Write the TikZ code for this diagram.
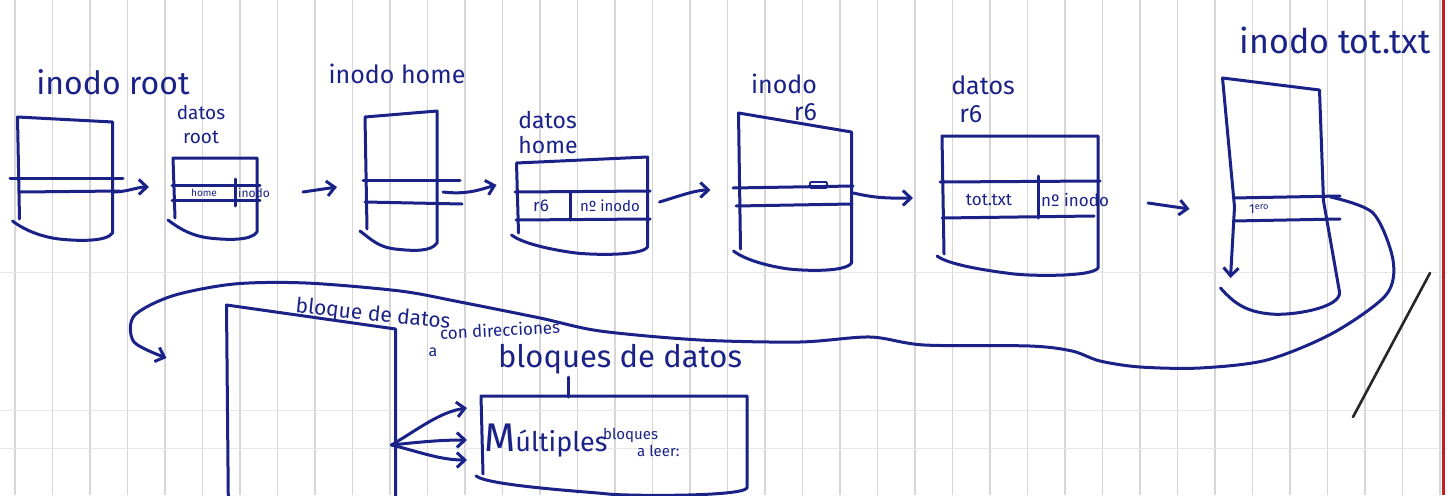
\documentclass[tikz,border=0pt]{standalone}
\usepackage{fontspec}
\setmainfont{Fira Sans}
\usetikzlibrary{arrows.meta,calc}
\definecolor{ink}{RGB}{26,34,135}
\definecolor{gridc}{RGB}{214,214,214}
\definecolor{marginred}{RGB}{196,30,36}
\newcommand\skbox[2]{%
  \draw[pen] ($(#1.south west)+(2,-14)$) -- (#1.north west) -- ($(#1.north east)+(0,#2)$) -- (#1.south east)
    .. controls ($(#1.south east)+(-6,9)$) and ($(#1.south)+(12,8)$) .. ($(#1.south)+(-6,6)$)
    .. controls ($(#1.south)+(-22,4)$) and ($(#1.south west)+(8,-2)$) .. ($(#1.south west)+(-5,-12)$);}
\begin{document}
\begin{tikzpicture}[x=1pt,y=-1pt,
  pen/.style={draw=ink,line width=3pt,line cap=round,line join=round},
  holder/.style={draw=none,inner sep=0pt,outer sep=0pt},
  lbl/.style={text=ink,inner sep=0pt},
  tip/.style={-{Straight Barb[length=8pt,width=15pt]}},
]
\useasboundingbox (0,0) rectangle (1447,495);
\clip (0,0) rectangle (1447,495);
\fill[white] (0,0) rectangle (1447,495);
% notebook grid
\foreach \i in {0,...,38} \draw[gridc,line width=1.1pt] ({15+37.5*\i},0) -- ({15+37.5*\i},495);
\foreach \yy in {272,410,448} \draw[gridc!60,line width=0.8pt] (0,\yy) -- (1447,\yy);
\draw[marginred,line width=3pt] (1443,0) -- (1443,495);

% ---------- boxes ----------
\node[holder,minimum width=95pt,minimum height=116pt] (iroot) at (65,175) {};
\node[holder,minimum width=84pt,minimum height=74pt] (droot) at (215,195) {};
\node[holder,minimum width=72pt,minimum height=126pt] (ihome) at (401,180) {};
\node[holder,minimum width=131pt,minimum height=84pt] (dhome) at (582,205) {};
\node[holder,minimum width=113pt,minimum height=150pt] (ir6) at (795,188) {};
\node[holder,minimum width=156pt,minimum height=132pt] (dr6) at (1020,202) {};
\node[holder,minimum width=97pt,minimum height=222pt] (itot) at (1271,189) {};
\node[holder,minimum width=169pt,minimum height=230pt] (bloque) at (311,420) {};
\node[holder,minimum width=266pt,minimum height=92pt] (multi) at (614,442) {};

\skbox{iroot}{5}
\skbox{droot}{0}
\skbox{ihome}{-6}
\skbox{dhome}{-6}
\skbox{ir6}{19}
\skbox{dr6}{0}
\skbox{bloque}{24}
\skbox{multi}{0}
% inodo tot.txt box (left side ends in a tip)
\draw[pen,tip] (itot.north west) -- ($(itot.west)+(12,18)$) -- ($(itot.south west)+(8,-22)$);
\draw[pen] ($(itot.north west)$) -- ($(itot.north east)+(0,12)$) -- ($(itot.east)+(4,12)$)
  -- ($(itot.south east)+(20,-8)$)
  .. controls ($(itot.south east)+(22,8)$) and ($(itot.south)+(20,16)$) .. ($(itot.south)+(0,14)$)
  .. controls ($(itot.south)+(-24,12)$) and ($(itot.south west)+(12,4)$) .. ($(itot.south west)+(-2,-12)$);

% ---------- rows ----------
\draw[pen] (10,178) -- (123,178);
\draw[pen] (20,192) -- (120,191);
\draw[pen] (172,185) -- (260,185);
\draw[pen] (172,200) -- (260,200);
\draw[pen] (235,179) -- (235,206);
\draw[pen] (363,180) -- (460,180);
\draw[pen] (365,202) -- (462,204);
\draw[pen] (515,192) -- (650,191);
\draw[pen] (516,220) -- (650,219);
\draw[pen] (570,192) -- (570,220);
\draw[pen] (733,188) -- (853,186);
\draw[pen] (736,206) -- (852,204);
\draw[pen,line width=1.8pt,rounded corners=1pt] (810,182) rectangle (827,188);
\draw[pen] (940,182) -- (1100,181);
\draw[pen] (942,218) -- (1094,216);
\draw[pen] (1038,176) -- (1038,218);
\draw[pen] (1233,198) -- (1340,196);
\draw[pen] (1233,221) -- (1340,219);

% ---------- texts ----------
\node[lbl,font=\fontsize{32}{32}\selectfont] (tiroot) at (113,82) {inodo root};
\node[lbl,font=\fontsize{19}{24}\selectfont,align=center] (tdroot) at (201,124) {datos\\root};
\node[lbl,font=\fontsize{25}{25}\selectfont] (tihome) at (397,74) {inodo home};
\node[lbl,font=\fontsize{23}{25}\selectfont,align=left] (tdhome) at (548,133) {datos\\home};
\node[lbl,font=\fontsize{25}{27}\selectfont,align=right] (tir6) at (784,97) {inodo\\r6};
\node[lbl,font=\fontsize{25}{28}\selectfont,align=left] (tdr6) at (983,99) {datos\\\hspace*{8pt}r6};
\node[lbl,font=\fontsize{34}{34}\selectfont] (titot) at (1335,40) {inodo tot.txt};

\node[lbl,font=\fontsize{10}{10}\selectfont] (drh) at (204,193) {home};
\node[lbl,font=\fontsize{12}{12}\selectfont,anchor=west] (dri) at (238,193) {inodo};
\node[lbl,font=\fontsize{17}{17}\selectfont] (dhr) at (541,206) {r6};
\node[lbl,font=\fontsize{15}{15}\selectfont] (dhn) at (610,206) {nº inodo};
\node[lbl,font=\fontsize{17}{17}\selectfont] (drt) at (989,200) {tot.txt};
\node[lbl,font=\fontsize{17}{17}\selectfont,anchor=west] (drn) at (1041,200) {nº inodo};
\node[lbl,font=\fontsize{13}{13}\selectfont] (tone) at (1259,209) {1\textsuperscript{ero}};

\node[lbl,font=\fontsize{21}{21}\selectfont,rotate=-6] (tbloque) at (373,315) {bloque de datos};
\node[lbl,font=\fontsize{17}{17}\selectfont,rotate=3] (tcon) at (500,330) {con direcciones};
\node[lbl,font=\fontsize{16}{16}\selectfont] (ta) at (433,352) {a};
\node[lbl,font=\fontsize{31}{31}\selectfont] (tbq) at (620,359) {bloques de datos};
\node[lbl,anchor=west] (tmul) at (484,441) {\fontsize{40}{40}\selectfont M\fontsize{27}{27}\selectfont últiples};
\node[lbl,font=\fontsize{15}{17}\selectfont,align=left,anchor=west] (tleer) at (603,442) {bloques\\\hspace*{34pt}a leer:};

% ---------- connectors ----------
\draw[pen,tip] ($(iroot.east)+(0,17)$) .. controls +(15,0) and +(-12,0) .. ($(droot.west)+(-24,-8)$);
\draw[pen,tip] ($(droot.east)+(46,-3)$) -- ($(ihome.west)+(-28,7)$);
\draw[pen,tip] ($(ihome.east)+(6,12)$) .. controls +(25,3) and +(-15,4) .. ($(dhome.west)+(-20,-20)$);
\draw[pen,tip] ($(dhome.east)+(12,-3)$) .. controls +(20,-6) and +(-15,0) .. ($(ir6.west)+(-28,2)$);
\draw[pen,tip] ($(ir6.east)+(2,5)$) .. controls +(25,6) and +(-20,0) .. ($(dr6.west)+(-29,-4)$);
\draw[pen,tip] ($(dr6.east)+(50,1)$) -- ($(itot.west)+(-33,20)$);

\coordinate (totend) at ($(itot.east)+(11,8)$);
\coordinate (bqin) at ($(bloque.west)+(-60,-62)$);
\draw[pen,tip] plot[smooth,tension=0.5] coordinates {(totend) (1373,213) (1393,260) (1386,295) (1333,333) (1267,360) (1200,368) (1140,367) (1100,361) (1072,351) (1030,346) (924,345) (870,337) (800,342) (700,340) (600,331) (540,318) (460,302) (400,291) (306,283) (234,284) (172,296) (134,316) (134,342) (bqin)};

\coordinate (fan) at ($(bloque.east)+(-4,25)$);
\draw[pen,tip] (fan) .. controls (420,428) and (440,412) .. ($(multi.west)+(-14,-34)$);
\draw[pen,tip] (fan) .. controls (420,442) and (440,440) .. ($(multi.west)+(-14,-2)$);
\draw[pen,tip] (fan) .. controls (420,452) and (440,460) .. ($(multi.west)+(-14,18)$);
\draw[pen] (568,377) -- (568,397);

\draw[black!85,line width=2.6pt,line cap=round] (1430,273) -- (1353,417);
\end{tikzpicture}
\end{document}
